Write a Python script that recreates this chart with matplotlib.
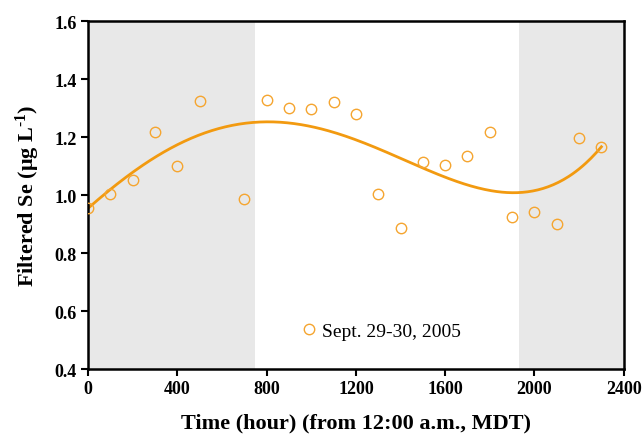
import numpy as np
import matplotlib
matplotlib.use("Agg")
import matplotlib.pyplot as plt

plt.rcParams['font.family'] = ['Liberation Serif', 'DejaVu Serif']
plt.rcParams['mathtext.fontset'] = 'custom'
plt.rcParams['mathtext.rm'] = 'Liberation Serif:bold'
plt.rcParams['mathtext.default'] = 'rm'

# hourly samples, Sept. 29-30, 2005
hours = [0, 100, 200, 300, 400, 500, 700, 800, 900, 1000, 1100, 1200,
         1300, 1400, 1500, 1600, 1700, 1800, 1900, 2000, 2100, 2200, 2300]
se = [0.957, 1.005, 1.053, 1.218, 1.100, 1.325, 0.985, 1.328, 1.300, 1.297,
      1.322, 1.280, 1.005, 0.888, 1.115, 1.105, 1.136, 1.218, 0.926, 0.943,
      0.902, 1.198, 1.167]

# night periods (before sunrise / after sunset)
night = [(0, 748), (1930, 2400)]

xticks = [0, 400, 800, 1200, 1600, 2000, 2400]
yticks = [0.4, 0.6, 0.8, 1.0, 1.2, 1.4, 1.6]

fig = plt.figure(figsize=(6.43, 4.35), dpi=100)
ax = fig.add_axes([0.137, 0.1494, 0.833, 0.7996])

for a, b in night:
    ax.axvspan(a, b, color='#e8e8e8', lw=0, zorder=0)

# 4th order polynomial trend
coef = np.polyfit(hours, se, 4)
tt = np.linspace(min(hours), max(hours), 300)
ax.plot(tt, np.polyval(coef, tt), color='#f29a10', lw=2, zorder=2)

ax.plot(hours, se, 'o', mfc='none', mec='#f5a530', ms=7.5, mew=1.0,
        zorder=3, label='Sept. 29-30, 2005')

ax.set_xlim(0, 2400)
ax.set_ylim(0.4, 1.6)
ax.set_xticks(xticks)
ax.set_yticks(yticks)
ax.set_yticklabels([f'{v:.1f}' for v in yticks])
ax.tick_params(direction='out', length=5, width=1.5, labelsize=13, pad=3)
for lab in ax.get_xticklabels() + ax.get_yticklabels():
    lab.set_fontweight('bold')
for sp in ax.spines.values():
    sp.set_linewidth(1.8)

ax.set_xlabel('Time (hour) (from 12:00 a.m., MDT)', fontsize=16,
              fontweight='bold', labelpad=11)
ax.set_ylabel('Filtered Se (μg L$^{\u20101}$)', fontsize=16, fontweight='bold',
              labelpad=9)

ax.legend(loc='center', bbox_to_anchor=(0.545, 0.11), frameon=False,
          fontsize=14, handletextpad=0.2, handlelength=1.0)

fig.savefig('out.png', dpi=100)
